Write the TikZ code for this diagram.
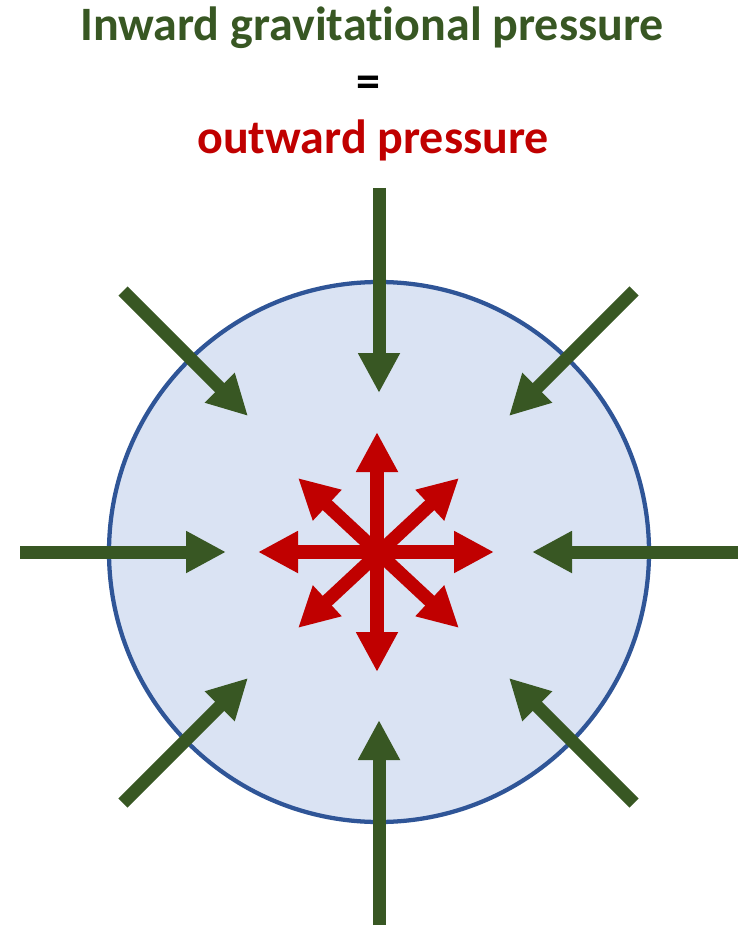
\documentclass[tikz,border=0pt]{standalone}
\usepackage{fontspec}
\setmainfont[Ligatures=NoCommon]{Carlito}
\usetikzlibrary{arrows.meta}
\definecolor{gGreen}{HTML}{385723}
\definecolor{gRed}{HTML}{C00000}
\definecolor{cFill}{HTML}{DAE3F3}
\definecolor{cLine}{HTML}{2F5597}
\begin{document}
\begin{tikzpicture}[x=0.75pt,y=-0.75pt,
  inarrow/.style={draw=gGreen,line width=9.75pt,-{Triangle[length=30pt,width=29.5pt]}},
  outarrow/.style={draw=gRed,line width=10pt,{Triangle[length=30pt,width=29.5pt]}-{Triangle[length=30pt,width=29.5pt]}},
  titletext/.style={font=\bfseries\fontsize{36}{42}\selectfont,inner sep=0pt}]
\useasboundingbox (0,0) rectangle (749,927);
\node[titletext,text=gGreen] (t1) at (372,28) {Inward gravitational pressure};
\node[titletext] (eq) at (368,87) {=};
\node[titletext,text=gRed] (t2) at (373,140) {outward pressure};
\node[circle,draw=cLine,fill=cFill,line width=3.2pt,minimum size=405pt,inner sep=0pt] (star) at (379,552) {};
% inward arrows
\coordinate (nS) at (379,188); \coordinate (nE) at (379,393);
\coordinate (wS) at (20,552);  \coordinate (wE) at (226,552);
\coordinate (eS) at (738,552); \coordinate (eE) at (532,552);
\coordinate (sS) at (379,925); \coordinate (sE) at (379,720);
\coordinate (nwS) at (123,291); \coordinate (nwE) at (248,416);
\coordinate (neS) at (634,291); \coordinate (neE) at (509,416);
\coordinate (swS) at (123,803); \coordinate (swE) at (248,678);
\coordinate (seS) at (634,803); \coordinate (seE) at (509,678);
\foreach \d in {n,w,e,s,nw,ne,sw,se}{\draw[inarrow] (\d S) -- (\d E);}
% outward arrows
\coordinate (rN) at (377,432); \coordinate (rS) at (377,672);
\coordinate (rW) at (258,552); \coordinate (rE) at (494,552);
\coordinate (rNW) at (298,478); \coordinate (rSE) at (459,628);
\coordinate (rNE) at (459,478); \coordinate (rSW) at (298,628);
\draw[outarrow] (rS) -- (rN);
\draw[outarrow] (rW) -- (rE);
\draw[outarrow] (rSE) -- (rNW);
\draw[outarrow] (rSW) -- (rNE);
\end{tikzpicture}
\end{document}
